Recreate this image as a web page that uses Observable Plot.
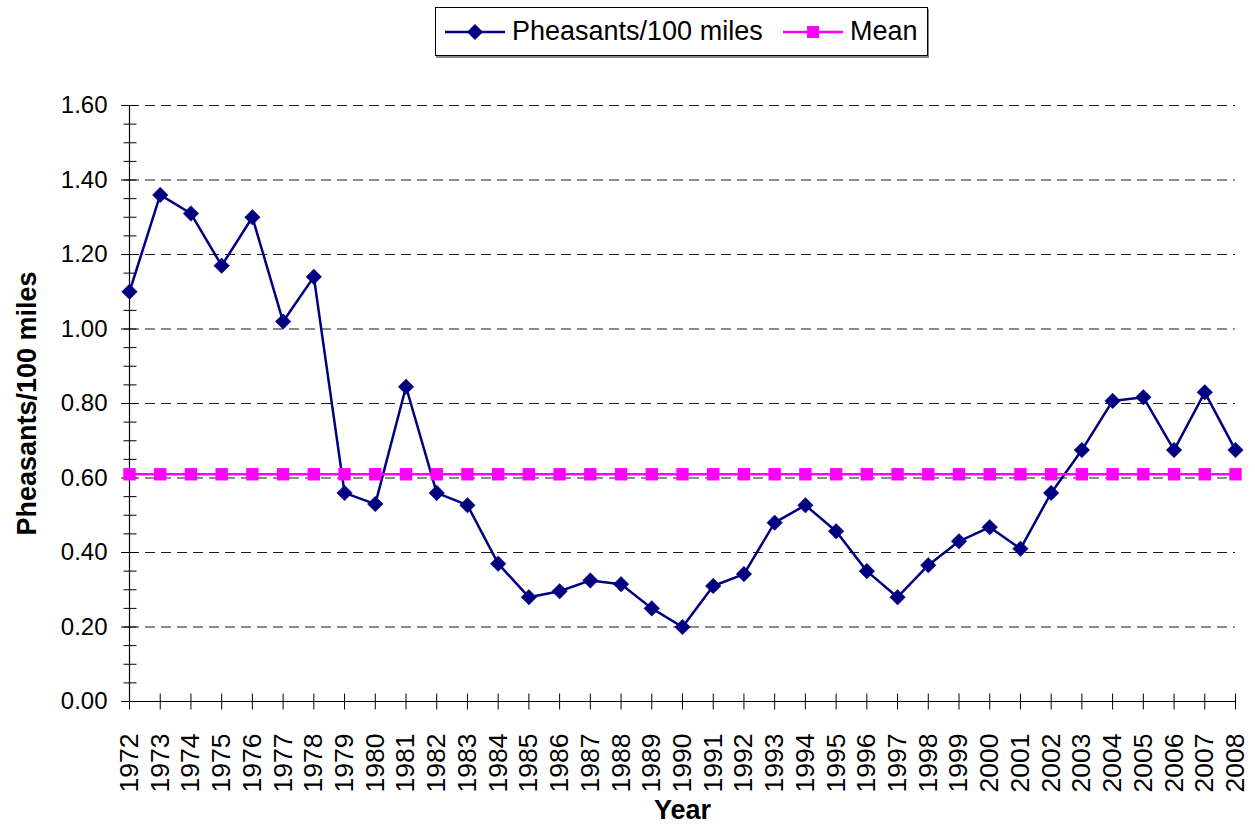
<!DOCTYPE html>
<html>
<head>
<meta charset="utf-8">
<script src="https://cdn.jsdelivr.net/npm/d3@7"></script>
<script src="https://cdn.jsdelivr.net/npm/@observablehq/plot@0.6"></script>
<style>
  html, body { margin: 0; padding: 0; background: #fff; }
  body { width: 1255px; height: 827px; overflow: hidden; font-family: "Liberation Sans", Arial, sans-serif; }
  #legendWrap { position: relative; width: 1255px; height: 62px; }
  #legend { position: absolute; left: 435px; top: 7px; width: 491px; height: 47px; border: 1px solid #000; box-shadow: 1px 2px 0 #888; background: #fff; }
  .item { position: absolute; top: 0; height: 47px; display: flex; align-items: center; font-size: 27px; color: #000; white-space: nowrap; }
  .item svg { display: block; margin-right: 7px; }
</style>
</head>
<body>
<div id="legendWrap">
  <div id="legend">
    <div class="item" style="left:9px">
      <svg width="60" height="20"><line x1="0" y1="10" x2="60" y2="10" stroke="#000080" stroke-width="2.5"/><path d="M30,2 L38,10 L30,18 L22,10 Z" fill="#000080"/></svg>
      <span>Pheasants/100 miles</span>
    </div>
    <div class="item" style="left:347px">
      <svg width="60" height="20"><line x1="0" y1="10" x2="60" y2="10" stroke="#FF00FF" stroke-width="2.5"/><rect x="24" y="4" width="12" height="12" fill="#FF00FF"/></svg>
      <span>Mean</span>
    </div>
  </div>
</div>
<div id="chart"></div>
<script>
const years = [1972,1973,1974,1975,1976,1977,1978,1979,1980,1981,1982,1983,1984,1985,1986,1987,1988,1989,1990,
  1991,1992,1993,1994,1995,1996,1997,1998,1999,2000,2001,2002,2003,2004,2005,2006,2007,2008];
const pheasants = [1.10,1.36,1.31,1.17,1.30,1.02,1.14,0.56,0.53,0.845,0.56,0.527,0.37,0.28,0.296,0.325,0.315,0.25,0.20,
  0.31,0.342,0.48,0.527,0.457,0.35,0.28,0.366,0.43,0.468,0.41,0.56,0.675,0.807,0.817,0.675,0.83,0.675];
const meanValue = 0.61;
const yTicks = [0,0.2,0.4,0.6,0.8,1.0,1.2,1.4,1.6];
const yGrid = [0.2,0.4,0.6,0.8,1.0,1.2,1.4,1.6];
const yMinor = d3.range(0, 33).map(i => i / 20);

const series = years.map((y, i) => ({year: y, value: pheasants[i]}));
const meanSeries = years.map(y => ({year: y, value: meanValue}));

const vTick = {draw(ctx) { ctx.moveTo(0, -8); ctx.lineTo(0, 8); }};
const hTick = {draw(ctx) { ctx.moveTo(-6, 0); ctx.lineTo(7, 0); }};

const font = '"Liberation Sans", Arial, sans-serif';

const chart = Plot.plot({
  width: 1255,
  height: 765,
  marginLeft: 129,
  marginRight: 20,
  marginTop: 43,
  marginBottom: 126,
  style: {fontFamily: font, background: "#fff", color: "#000"},
  x: {domain: [1972, 2008], label: null},
  y: {domain: [0, 1.6], label: null},
  marks: [
    Plot.gridY(yGrid, {stroke: "#000", strokeOpacity: 0.9, strokeDasharray: "10,6", strokeWidth: 1}),
    Plot.ruleX([1972], {stroke: "#000", strokeWidth: 1.2}),
    Plot.ruleY([0], {stroke: "#000", strokeWidth: 1.2}),
    Plot.dot(yMinor, {x: () => 1972, y: d => d, symbol: hTick, stroke: "#000", fill: "none", strokeWidth: 1}),
    Plot.dot(years, {x: d => d, y: () => 0, symbol: vTick, stroke: "#000", fill: "none", strokeWidth: 1}),
    Plot.axisY({ticks: yTicks, tickFormat: d3.format(".2f"), tickSize: 8, tickPadding: 14, fontSize: 24, label: null}),
    Plot.axisX({ticks: years, tickFormat: d => String(d), tickSize: 0, tickPadding: 32, tickRotate: -90, fontSize: 26.5, label: null}),
    Plot.line(series, {x: "year", y: "value", stroke: "#000080", strokeWidth: 2.5}),
    Plot.dot(series, {x: "year", y: "value", symbol: "diamond2", r: 7, fill: "#000080", stroke: "#000080", strokeWidth: 0.5}),
    Plot.line(meanSeries, {x: "year", y: "value", stroke: "#FF00FF", strokeWidth: 2.5}),
    Plot.dot(meanSeries, {x: "year", y: "value", symbol: "square", r: 7, fill: "#FF00FF", stroke: "none"}),
    Plot.text(["Pheasants/100 miles"], {frameAnchor: "left", textAnchor: "middle", dx: -102, rotate: -90, fontSize: 27, fontWeight: "bold", fill: "#000"}),
    Plot.text(["Year"], {frameAnchor: "bottom", dy: 117, fontSize: 27, fontWeight: "bold", fill: "#000"})
  ]
});
document.getElementById("chart").appendChild(chart);
</script>
</body>
</html>
